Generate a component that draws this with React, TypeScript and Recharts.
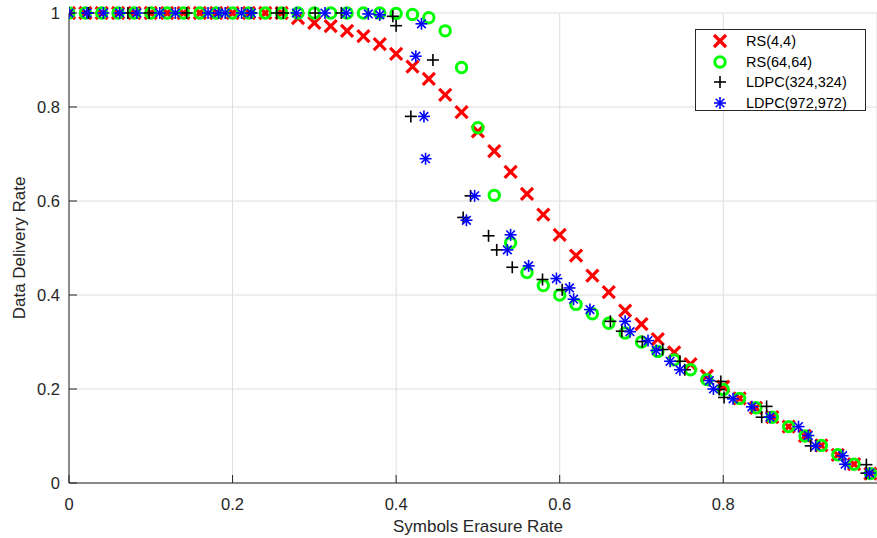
import React from 'react';
import { ScatterChart, Scatter, XAxis, YAxis, CartesianGrid, Legend } from 'recharts';

// ---- data ----
const rsErasureRates = [
  0, 0.02, 0.04, 0.06, 0.08, 0.1, 0.12, 0.14, 0.16, 0.18,
  0.2, 0.22, 0.24, 0.26, 0.28, 0.3, 0.32, 0.34, 0.36, 0.38,
  0.4, 0.42, 0.44, 0.46, 0.48, 0.5, 0.52, 0.54, 0.56, 0.58,
  0.6, 0.62, 0.64, 0.66, 0.68, 0.7, 0.72, 0.74, 0.76, 0.78,
  0.8, 0.82, 0.84, 0.86, 0.88, 0.9, 0.92, 0.94, 0.96, 0.98,
];
const rs44Delivery = [
  1, 1, 1, 1, 1, 1, 1, 1, 1, 1,
  1, 1, 1, 1, 0.989, 0.979, 0.972, 0.962, 0.951, 0.934,
  0.913, 0.886, 0.86, 0.826, 0.789, 0.748, 0.706, 0.662, 0.615, 0.571,
  0.528, 0.484, 0.441, 0.406, 0.367, 0.338, 0.306, 0.278, 0.253, 0.228,
  0.205, 0.18, 0.16, 0.14, 0.12, 0.1, 0.08, 0.06, 0.04, 0.02,
];
const rs6464Delivery = [
  1, 1, 1, 1, 1, 1, 1, 1, 1, 1,
  1, 1, 1, 1, 1, 1, 1, 1, 1, 1,
  0.999, 0.997, 0.99, 0.962, 0.884, 0.756, 0.612, 0.511, 0.448, 0.42,
  0.4, 0.38, 0.36, 0.34, 0.319, 0.3, 0.28, 0.262, 0.241, 0.22,
  0.199, 0.18, 0.16, 0.14, 0.12, 0.1, 0.08, 0.06, 0.04, 0.02,
];
const ldpc324Rates = [
  0.024, 0.072, 0.098, 0.144, 0.223, 0.254, 0.262, 0.301, 0.333, 0.396,
  0.4, 0.418, 0.445, 0.482, 0.491, 0.513, 0.523, 0.542, 0.579, 0.603,
  0.662, 0.676, 0.701, 0.726, 0.747, 0.753, 0.797, 0.795, 0.801, 0.853,
  0.847, 0.907, 0.975, 0.975,
];
const ldpc324Delivery = [
  1, 1, 1, 1, 1, 1, 1, 1, 1, 0.993,
  0.973, 0.78, 0.9, 0.565, 0.611, 0.526, 0.496, 0.459, 0.433, 0.411,
  0.344, 0.323, 0.301, 0.284, 0.259, 0.241, 0.216, 0.199, 0.182, 0.163,
  0.14, 0.079, 0.039, 0.021,
];
const ldpc972Rates = [
  0, 0.022, 0.042, 0.062, 0.083, 0.111, 0.13, 0.17, 0.183, 0.191,
  0.211, 0.223, 0.278, 0.313, 0.339, 0.366, 0.38, 0.431, 0.424, 0.434,
  0.436, 0.486, 0.496, 0.536, 0.54, 0.562, 0.596, 0.612, 0.617, 0.637,
  0.68, 0.686, 0.708, 0.718, 0.735, 0.747, 0.783, 0.788, 0.812, 0.835,
  0.857, 0.892, 0.904, 0.913, 0.946, 0.949, 0.979,
];
const ldpc972Delivery = [
  1, 1, 1, 1, 1, 1, 1, 1, 1, 1,
  1, 1, 1, 1, 1, 0.998, 0.996, 0.977, 0.908, 0.78,
  0.69, 0.559, 0.611, 0.496, 0.528, 0.462, 0.435, 0.415, 0.391, 0.369,
  0.344, 0.322, 0.303, 0.282, 0.259, 0.241, 0.218, 0.2, 0.179, 0.162,
  0.14, 0.12, 0.101, 0.079, 0.058, 0.04, 0.021,
];
const xTicks = [0, 0.2, 0.4, 0.6, 0.8];
const yTicks = [0, 0.2, 0.4, 0.6, 0.8, 1];
const seriesNames = ['RS(4,4)', 'RS(64,64)', 'LDPC(324,324)', 'LDPC(972,972)'];

const zip = (xs: number[], ys: number[]) => xs.map((x, i) => ({ x, y: ys[i] }));
const rs44Data = zip(rsErasureRates, rs44Delivery);
const rs6464Data = zip(rsErasureRates, rs6464Delivery);
const ldpc324Data = zip(ldpc324Rates, ldpc324Delivery);
const ldpc972Data = zip(ldpc972Rates, ldpc972Delivery);

// ---- styles ----
const FONT = '"Liberation Sans", Arial, Helvetica, sans-serif';
const TEXT = '#262626';
const AXIS = '#262626';

const XMark = ({ cx, cy }: any) => (
  <g stroke="#ff0000" strokeWidth={3.2}>
    <line x1={cx - 6} y1={cy - 6} x2={cx + 6} y2={cy + 6} />
    <line x1={cx - 6} y1={cy + 6} x2={cx + 6} y2={cy - 6} />
  </g>
);
const OMark = ({ cx, cy }: any) => (
  <circle cx={cx} cy={cy} r={5.2} fill="none" stroke="#00ff00" strokeWidth={3} />
);
const PlusMark = ({ cx, cy }: any) => (
  <g stroke="#000000" strokeWidth={1.6}>
    <line x1={cx - 6} y1={cy} x2={cx + 6} y2={cy} />
    <line x1={cx} y1={cy - 6} x2={cx} y2={cy + 6} />
  </g>
);
const StarMark = ({ cx, cy }: any) => (
  <g stroke="#0000ff" strokeWidth={1.6}>
    <line x1={cx - 6} y1={cy} x2={cx + 6} y2={cy} />
    <line x1={cx} y1={cy - 6} x2={cx} y2={cy + 6} />
    <line x1={cx - 4.3} y1={cy - 4.3} x2={cx + 4.3} y2={cy + 4.3} />
    <line x1={cx - 4.3} y1={cy + 4.3} x2={cx + 4.3} y2={cy - 4.3} />
  </g>
);
const markers = [XMark, OMark, PlusMark, StarMark];

const fmt = (v: number) => (v === 0 ? '0' : v === 1 ? '1' : String(v));

const BottomTick = ({ x, y, payload }: any) => (
  <g>
    <line x1={x} y1={y} x2={x} y2={y - 8} stroke={AXIS} strokeWidth={1} />
    <text x={x} y={y + 21} textAnchor="middle" dominantBaseline="central" fill={TEXT}
      fontSize={16.5} fontFamily={FONT}>{fmt(payload.value)}</text>
  </g>
);
const TopTick = ({ x, y }: any) => (
  <line x1={x} y1={y} x2={x} y2={y + 8} stroke={AXIS} strokeWidth={1} />
);
const LeftTick = ({ x, y, payload }: any) => (
  <g>
    <line x1={x} y1={y} x2={x + 8} y2={y} stroke={AXIS} strokeWidth={1} />
    <text x={x - 9} y={y} textAnchor="end" dominantBaseline="central" fill={TEXT}
      fontSize={16.5} fontFamily={FONT}>{fmt(payload.value)}</text>
  </g>
);

const XTitle = ({ viewBox }: any) => (
  <text x={viewBox.x + viewBox.width / 2 + 5} y={526} textAnchor="middle" dominantBaseline="central"
    fill={TEXT} fontSize={17} fontFamily={FONT}>Symbols Erasure Rate</text>
);
const YTitle = ({ viewBox }: any) => {
  const cy = viewBox.y + viewBox.height / 2;
  return (
    <text transform={`translate(19, ${cy}) rotate(-90)`} textAnchor="middle" dominantBaseline="central"
      fill={TEXT} fontSize={17} fontFamily={FONT}>Data Delivery Rate</text>
  );
};

const LegendBox = () => (
  <div style={{
    width: 171, height: 82, border: `1px solid ${AXIS}`, background: '#fff',
    fontFamily: FONT, fontSize: 14.5, color: '#000', boxSizing: 'border-box', paddingTop: 1,
  }}>
    {seriesNames.map((name, i) => {
      const M = markers[i];
      return (
        <div key={name} style={{ display: 'flex', alignItems: 'center', height: 20.5 }}>
          <svg width={40} height={20} style={{ marginLeft: 4, flex: 'none' }}>
            <M cx={20} cy={10} />
          </svg>
          <span style={{ marginLeft: 6, whiteSpace: 'nowrap' }}>{name}</span>
        </div>
      );
    })}
  </div>
);

export default function App() {
  return (
    <div style={{ position: 'absolute', left: 0, top: 0, width: 877, height: 538, background: '#fff', fontFamily: FONT }}>
      <ScatterChart width={877} height={538} margin={{ top: 13, right: 0, bottom: 0, left: 0 }}>
        <CartesianGrid stroke="#dedede" strokeWidth={1} />
        <XAxis type="number" dataKey="x" domain={[0, 0.988]} ticks={xTicks} height={55}
          allowDataOverflow tickSize={0} tickMargin={0} tickLine={false}
          axisLine={{ stroke: AXIS, strokeWidth: 1 }} tick={<BottomTick />} interval={0}
          label={<XTitle />} />
        <XAxis xAxisId="top" orientation="top" type="number" dataKey="x" domain={[0, 0.988]} ticks={xTicks}
          height={0} allowDataOverflow tickSize={0} tickMargin={0} tickLine={false}
          axisLine={{ stroke: AXIS, strokeWidth: 1 }} tick={<TopTick />} interval={0} />
        <YAxis type="number" dataKey="y" domain={[0, 1]} ticks={yTicks} width={69}
          tickSize={0} tickMargin={0} tickLine={false}
          axisLine={{ stroke: AXIS, strokeWidth: 1 }} tick={<LeftTick />} interval={0}
          label={<YTitle />} />
        <Scatter name={seriesNames[0]} data={rs44Data} shape={<XMark />} isAnimationActive={false} />
        <Scatter name={seriesNames[1]} data={rs6464Data} shape={<OMark />} isAnimationActive={false} />
        <Scatter name={seriesNames[2]} data={ldpc324Data} shape={<PlusMark />} isAnimationActive={false} />
        <Scatter name={seriesNames[3]} data={ldpc972Data} shape={<StarMark />} isAnimationActive={false} />
        <Legend layout="vertical" align="center" verticalAlign="middle" content={<LegendBox />}
          wrapperStyle={{ position: 'absolute', left: 695, top: 29, width: 171, height: 82 }} />
      </ScatterChart>
    </div>
  );
}
